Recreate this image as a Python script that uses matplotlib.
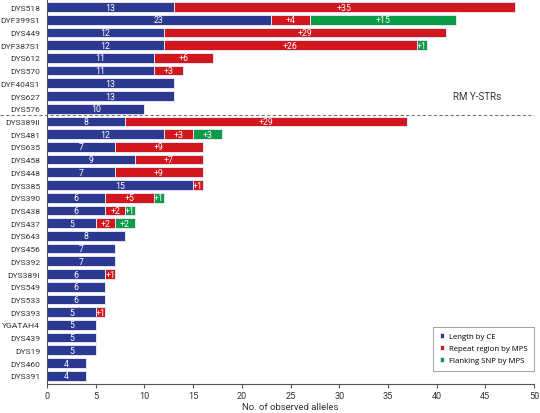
import numpy as np
import matplotlib.pyplot as plt

loci = ['DYS518', 'DYF399S1', 'DYS449', 'DYF387S1', 'DYS612', 'DYS570', 'DYF404S1',
        'DYS627', 'DYS576', 'DYS389II', 'DYS481', 'DYS635', 'DYS458', 'DYS448',
        'DYS385', 'DYS390', 'DYS438', 'DYS437', 'DYS643', 'DYS456', 'DYS392',
        'DYS389I', 'DYS549', 'DYS533', 'DYS393', 'YGATAH4', 'DYS439', 'DYS19',
        'DYS460', 'DYS391']
length_ce = [13, 23, 12, 12, 11, 11, 13, 13, 10, 8, 12, 7, 9, 7, 15, 6, 6, 5, 8, 7, 7,
             6, 6, 6, 5, 5, 5, 5, 4, 4]
repeat_mps = [35, 4, 29, 26, 6, 3, 0, 0, 0, 29, 3, 9, 7, 9, 1, 5, 2, 2, 0, 0, 0,
              1, 0, 0, 1, 0, 0, 0, 0, 0]
flank_snp = [0, 15, 0, 1, 0, 0, 0, 0, 0, 0, 3, 0, 0, 0, 0, 1, 1, 2, 0, 0, 0,
             0, 0, 0, 0, 0, 0, 0, 0, 0]

blue = '#2b3990'
red = '#d2161e'
green = '#0a9a48'

plt.rcParams['font.family'] = ['Roboto', 'DejaVu Sans']

fig, ax = plt.subplots(figsize=(5.4, 4.14), dpi=100)
fig.subplots_adjust(left=0.087, right=0.989, top=1.0, bottom=0.07)

y = np.arange(len(loci))
lc = np.array(length_ce)
rp = np.array(repeat_mps)
fs = np.array(flank_snp)

kw = dict(height=0.76, edgecolor='#e4e4f2', linewidth=0.7)
ax.barh(y, lc, color=blue, label='Length by CE', **kw)
ax.barh(y, rp, left=lc, color=red, label='Repeat region by MPS', **kw)
ax.barh(y, fs, left=lc + rp, color=green, label='Flanking SNP by MPS', **kw)

for i in range(len(loci)):
    ax.text(lc[i] / 2, y[i], str(lc[i]), ha='center', va='center', color='white', fontsize=6.3)
    if rp[i]:
        ax.text(lc[i] + rp[i] / 2, y[i], '+%d' % rp[i], ha='center', va='center',
                color='white', fontsize=6.3)
    if fs[i]:
        ax.text(lc[i] + rp[i] + fs[i] / 2, y[i], '+%d' % fs[i], ha='center', va='center',
                color='white', fontsize=6.3)

# separator between RM Y-STRs and the rest
ax.plot([-4.8, 50], [8.5, 8.5], color='#777777', linestyle='--', linewidth=0.8,
        dashes=(3, 2), clip_on=False)
ax.text(44.1, 7.0, 'RM Y-STRs', ha='center', va='center', fontsize=7, color='#333333')

ax.set_ylim(29.65, -0.63)
ax.set_xlim(0, 50)
ax.set_yticks(y)
ax.set_yticklabels(loci, fontsize=6.1, color='#333333')
ax.set_xticks(np.arange(0, 51, 5))
ax.tick_params(axis='x', labelsize=6.6, labelcolor='#333333', length=3, color='#555555', pad=2)
ax.tick_params(axis='y', length=0, pad=5)
ax.set_xlabel('No. of observed alleles', fontsize=6.8, color='#333333', labelpad=1.5)
ax.spines['top'].set_visible(False)
ax.spines['right'].set_visible(False)
ax.spines['left'].set_color('#555555')
ax.spines['bottom'].set_color('#555555')

leg = ax.legend(loc='lower right', frameon=True, fancybox=False,
                prop={'family': ['Open Sans', 'DejaVu Sans'], 'size': 5.6},
                handlelength=0.55, handleheight=0.55, borderpad=0.85, labelspacing=0.6,
                handletextpad=0.6, borderaxespad=0, bbox_to_anchor=(1.0, 0.035))
leg.get_frame().set_edgecolor('#888888')
leg.get_frame().set_linewidth(0.7)

plt.savefig('out.png', dpi=100)
